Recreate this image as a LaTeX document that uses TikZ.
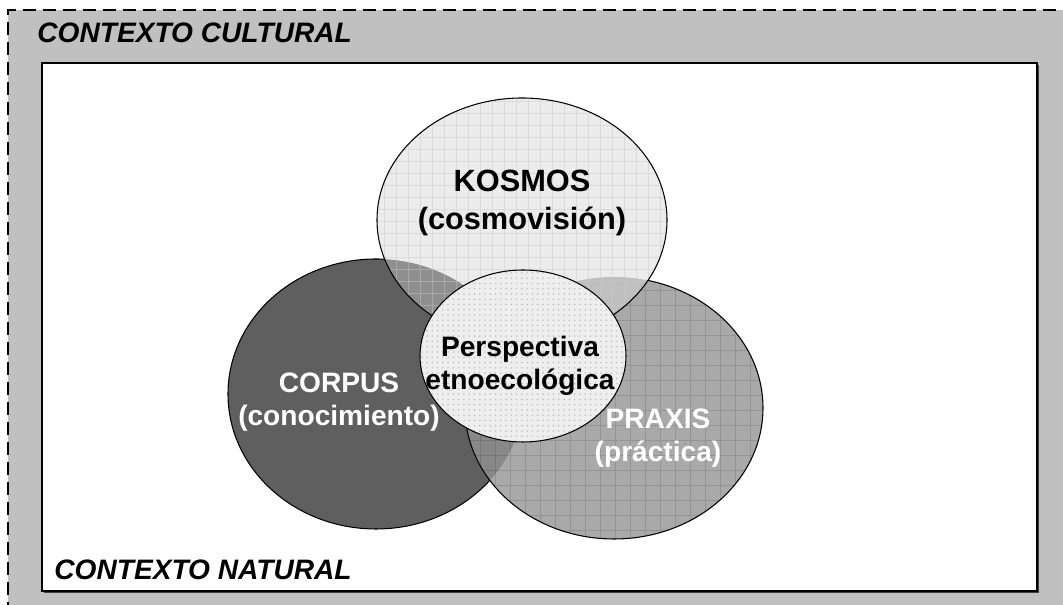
\documentclass[tikz,border=0pt]{standalone}
\usepackage{fontspec}
\setmainfont{Liberation Sans}
\usetikzlibrary{patterns}
\definecolor{cultura}{HTML}{C0C0C0}
\definecolor{corpusgris}{HTML}{5F5F5F}
\definecolor{praxisgris}{HTML}{A9A9A9}
\definecolor{kosmosgris}{HTML}{ECECEC}
\definecolor{corpraxis}{HTML}{888888}
\definecolor{corkosmos}{HTML}{8F8F8F}
\definecolor{prakosmos}{HTML}{BFBFBF}
\definecolor{centrogris}{HTML}{EEEEEE}

\tikzset{
  lbl/.style={align=center, inner sep=0pt, font=\bfseries\fontsize{16}{19}\selectfont},
  ctx/.style={anchor=west, inner sep=0pt, font=\bfseries\itshape\fontsize{16}{19}\selectfont},
  kosr/.style={x radius=2.9cm, y radius=2.44cm},
  corr/.style={x radius=2.96cm, y radius=2.7cm},
  prar/.style={x radius=2.98cm, y radius=2.62cm},
  etnr/.style={x radius=2.06cm, y radius=1.72cm}
}

\begin{document}
\begin{tikzpicture}
  \clip (0,0) rectangle (21.26,12.1);

  % Contexto cultural
  \fill[cultura] (0.16,-1) rectangle (22,11.9);
  \draw[line width=1pt, dash pattern=on 0.26cm off 0.14cm] (0.16,-1) -- (0.16,11.9) -- (22,11.9);
  \node[ctx] (cultural) at (0.74,11.44) {CONTEXTO CULTURAL};

  % Contexto natural
  \fill[black!75] (0.88,0.24) rectangle (20.78,10.80);
  \draw[fill=white, line width=0.6pt] (0.84,0.28) rectangle (20.74,10.84);
  \node[ctx] (natural) at (1.08,0.7) {CONTEXTO NATURAL};

  \coordinate (K) at (10.44,7.7);
  \coordinate (C) at (7.52,4.22);
  \coordinate (P) at (12.28,3.94);
  \coordinate (E) at (10.46,4.98);

  % Corpus
  \filldraw[fill=corpusgris, line width=0.6pt] (C) ellipse [corr];

  % Praxis
  \fill[praxisgris] (P) ellipse [prar];
  \begin{scope}
    \clip (C) ellipse [corr];
    \fill[corpraxis] (P) ellipse [prar];
  \end{scope}
  \begin{scope}
    \clip (P) ellipse [prar];
    \draw[black, opacity=0.12, step=0.3] (9,1) grid (15.5,7);
  \end{scope}
  \draw[line width=0.6pt] (P) ellipse [prar];

  % Kosmos
  \fill[kosmosgris] (K) ellipse [kosr];
  \begin{scope}
    \clip (K) ellipse [kosr];
    \fill[corkosmos] (C) ellipse [corr];
    \fill[prakosmos] (P) ellipse [prar];
    \draw[black, opacity=0.07, step=0.24] (7.4,5) grid (13.5,10.3);
    \begin{scope}
      \clip (C) ellipse [corr];
      \draw[white, opacity=0.3, step=0.24] (7.4,5) grid (13.5,10.3);
    \end{scope}
    \clip (P) ellipse [prar];
    \draw[white, opacity=0.25, step=0.24] (7.4,5) grid (13.5,10.3);
  \end{scope}
  \draw[line width=0.6pt] (K) ellipse [kosr];

  % Perspectiva etnoecologica
  \draw[line width=0.6pt, preaction={fill=centrogris}, pattern=dots, pattern color=gray!50] (E) ellipse [etnr];

  \node[lbl, font=\bfseries\fontsize{17.5}{22}\selectfont] (kosmos) at (10.44,8.04) {KOSMOS\\(cosmovisión)};
  \node[lbl, text=white] (corpus) at (6.78,4.06) {CORPUS\\(conocimiento)};
  \node[lbl] (etno) at (10.4,4.78) {Perspectiva\\etnoecológica};
  \node[lbl, text=white] (praxis) at (13.16,3.34) {PRAXIS\\(práctica)};
\end{tikzpicture}
\end{document}
